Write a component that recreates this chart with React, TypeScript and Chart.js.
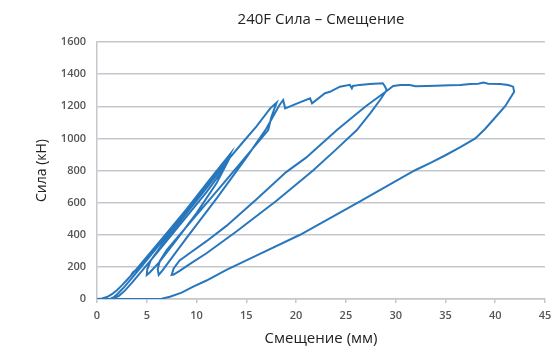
import React, { useEffect, useRef } from 'react';
import { Chart, registerables } from 'chart.js';

Chart.register(...registerables);

const chartTitle = '240F Сила – Смещение';
const xAxisTitle = 'Смещение (мм)';
const yAxisTitle = 'Сила (кН)';

const xMin = 0;
const xMax = 45;
const xStep = 5;
const yMin = 0;
const yMax = 1600;
const yStep = 200;

// Displacement (mm) and force (kN) samples, in test order
const displacementMm = [
  // initial loading
  0, 0.5, 1, 1.5, 2, 2.5, 3, 3.5, 5, 7, 9, 11, 12.5, 13.35,
  // unload 1
  13.1, 11, 8.5, 6, 4.5, 3.5, 2.6, 2, 1.6, 1.3,
  // reload 1
  1.7, 2.2, 2.8, 3.5, 4.3, 6, 8.5, 11, 12.8, 13.4,
  // unload 2
  13.0, 10.5, 8, 5.5, 4.2, 3.6, 3.5,
  // reload 2
  3.8, 5, 7, 9.5, 12, 13.3,
  // unload 3
  13.0, 11, 8.5, 6.5, 5.4, 5.05, 5.0,
  // reload to first peak
  5.3, 6.2, 8, 10, 12, 13.35, 14.5, 16, 17.4, 18.04,
  // unload from first peak
  17.5, 17.2, 12.7, 9, 7, 6.3, 6.1, 6.2,
  // reload and first plateau
  6.6, 9, 12, 15, 17, 18.3, 18.7, 18.9, 20, 21.4, 21.6, 22.9, 23.4, 24.4, 25.4, 25.6, 25.7,
  26.4, 27.4, 28.7, 28.9, 29.1,
  // unload 2nd cycle
  28.5, 27.5, 26.1, 24, 21.7, 18, 14, 11, 9.5, 8.3, 7.7, 7.5,
  // reload 2nd cycle
  7.7, 8.3, 9.3, 11, 13, 16, 19, 21, 24.1, 27, 29.2,
  // second plateau
  29.75, 30.5, 31.4, 32, 33.1, 34, 35.4, 36.5, 37.5, 38.3, 38.8, 39.3, 40.5, 41.3, 41.8,
  // final unload
  41.9, 41.5, 41.0, 40, 39, 38, 36.5, 35, 33.5, 31.9, 26.2, 20.4, 16, 13, 11, 9.67, 8.5,
  7.33, 6.5, 6.0, 0,
];

const forceKn = [
  // initial loading
  0, 3, 12, 30, 55, 85, 118, 152, 262, 410, 560, 718, 835, 900,
  // unload 1
  870, 700, 505, 318, 205, 130, 65, 28, 8, 0,
  // reload 1
  5, 20, 52, 100, 160, 285, 475, 665, 815, 905,
  // unload 2
  862, 670, 480, 290, 195, 165, 155,
  // reload 2
  172, 258, 405, 592, 785, 895,
  // unload 3
  850, 690, 495, 335, 240, 185, 150,
  // reload to first peak
  165, 225, 370, 535, 720, 880, 965, 1073, 1187, 1222,
  // unload from first peak
  1130, 1052, 720, 450, 305, 235, 185, 150,
  // reload and first plateau
  180, 380, 625, 880, 1060, 1205, 1239, 1187, 1215, 1250, 1218, 1281, 1290, 1322, 1333, 1312, 1326,
  1333, 1339, 1343, 1326, 1301,
  // unload 2nd cycle
  1245, 1160, 1052, 930, 800, 610, 420, 285, 225, 175, 152, 150,
  // reload 2nd cycle
  190, 240, 285, 360, 455, 620, 790, 880, 1052, 1200, 1300,
  // second plateau
  1326, 1333, 1332, 1325, 1326, 1328, 1331, 1333, 1338, 1340, 1347, 1340, 1339, 1332, 1322,
  // final unload
  1290, 1250, 1200, 1130, 1060, 1000, 945, 895, 848, 800, 600, 400, 270, 181, 115, 77, 40,
  14, 2, 0, 0,
];

export default function App() {
  const canvasRef = useRef<HTMLCanvasElement | null>(null);

  useEffect(() => {
    document.body.style.margin = '0';
    const canvas = canvasRef.current;
    if (!canvas) return;
    const points = displacementMm.map((x, i) => ({ x, y: forceKn[i] }));
    const gridColor = '#c4c8cc';
    const chart = new Chart(canvas, {
      type: 'scatter',
      data: {
        datasets: [
          {
            data: points,
            showLine: true,
            borderColor: '#2877bd',
            backgroundColor: '#2877bd',
            borderWidth: 2,
            pointRadius: 0,
            pointHoverRadius: 0,
            tension: 0,
            fill: false,
          },
        ],
      },
      options: {
        responsive: false,
        animation: false,
        devicePixelRatio: 1,
        layout: { padding: { left: 0, right: 14, top: 0, bottom: 0 } },
        plugins: {
          legend: { display: false },
          tooltip: { enabled: false },
          title: {
            display: true,
            fullSize: false,
            text: chartTitle,
            color: '#222',
            font: { family: 'Open Sans', size: 15, weight: 'normal' },
            padding: { top: 11, bottom: 13 },
          },
        },
        scales: {
          x: {
            type: 'linear',
            min: xMin,
            max: xMax,
            afterFit: (scale: any) => {
              scale.height = 51;
            },
            ticks: {
              stepSize: xStep,
              color: '#555',
              padding: 6,
              font: { family: 'Open Sans', size: 11, weight: '600' },
              callback: (v: any) => String(v),
            },
            grid: {
              display: true,
              drawOnChartArea: false,
              drawTicks: true,
              tickLength: 4,
              color: gridColor,
              lineWidth: 1.5,
            },
            border: { display: true, color: gridColor, width: 1.5 },
            title: {
              display: true,
              text: xAxisTitle,
              color: '#222',
              font: { family: 'Open Sans', size: 15, weight: 'normal' },
              padding: { top: 0, bottom: 2 },
            },
          },
          y: {
            type: 'linear',
            min: yMin,
            max: yMax,
            afterFit: (scale: any) => {
              scale.width = 97;
            },
            ticks: {
              stepSize: yStep,
              color: '#555',
              padding: 11,
              font: { family: 'Open Sans', size: 11, weight: '600' },
              callback: (v: any) => String(v),
            },
            grid: {
              display: true,
              drawTicks: false,
              color: gridColor,
              lineWidth: 1.5,
            },
            border: { display: true, color: gridColor, width: 1.5 },
            title: {
              display: true,
              text: yAxisTitle,
              color: '#222',
              font: { family: 'Open Sans', size: 14, weight: 'normal' },
              padding: { top: 34, bottom: 0 },
            },
          },
        },
      },
    });
    return () => chart.destroy();
  }, []);

  return (
    <div style={{ width: 559, height: 350, background: '#fff' }}>
      <canvas ref={canvasRef} width={559} height={350} />
    </div>
  );
}
